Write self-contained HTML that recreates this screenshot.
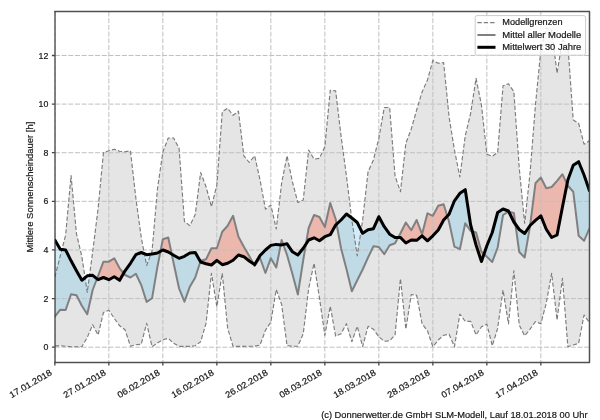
<!DOCTYPE html>
<html><head><meta charset="utf-8"><style>html,body{margin:0;padding:0;background:#fff;width:600px;height:420px;overflow:hidden}svg{display:block}</style></head><body>
<svg width="600" height="420" viewBox="0 0 600 420" font-family="'Liberation Sans', sans-serif">
<defs><clipPath id="ax"><rect x="54.9" y="11.5" width="534.60" height="351.00"/></clipPath></defs>
<rect width="600" height="420" fill="#fff"/>
<g clip-path="url(#ax)">
<polygon points="54.85,277.00 60.25,256.00 65.65,235.00 71.05,175.50 76.45,233.70 81.85,256.50 87.25,292.50 92.65,252.00 98.05,209.00 103.45,152.50 108.85,150.80 114.25,149.20 119.65,151.30 125.05,151.70 130.45,150.80 135.85,198.00 141.25,237.50 146.65,265.50 152.05,251.00 157.45,189.00 162.85,152.00 168.25,138.00 173.65,138.00 179.05,148.30 184.45,221.50 189.85,225.60 195.25,214.50 200.65,172.50 206.05,186.70 211.45,206.70 216.85,185.00 222.25,111.70 227.65,108.30 233.05,115.30 238.45,111.20 243.85,155.80 249.25,162.50 254.65,155.80 260.05,180.00 265.45,209.20 270.85,205.00 276.25,229.00 281.65,183.00 287.05,155.80 292.45,182.00 297.85,202.50 303.25,200.00 308.65,150.00 314.05,159.20 319.45,158.30 324.85,146.70 330.25,90.30 335.65,90.80 341.05,136.00 346.45,176.00 351.85,220.00 357.25,255.80 362.65,220.00 368.05,171.70 373.45,160.00 378.85,138.30 384.25,107.50 389.65,107.50 395.05,176.00 400.45,191.70 405.85,143.30 411.25,129.00 416.65,110.00 422.05,92.00 427.45,80.00 432.85,60.30 438.25,63.30 443.65,62.50 449.05,116.70 454.45,150.00 459.85,177.00 465.25,135.80 470.65,113.30 476.05,78.30 481.45,105.00 486.85,154.20 492.25,156.30 497.65,152.50 503.05,85.80 508.45,83.70 513.85,91.70 519.25,168.00 524.65,223.30 530.05,173.00 535.45,105.00 540.85,50.00 546.25,28.00 551.65,30.00 557.05,73.30 562.45,40.00 567.85,45.00 573.25,120.00 578.65,123.30 584.05,144.20 589.45,140.80 589.45,322.50 584.05,315.00 578.65,343.30 573.25,345.00 567.85,346.70 562.45,278.30 557.05,320.00 551.65,273.30 546.25,303.30 540.85,323.70 535.45,321.70 530.05,329.20 524.65,335.80 519.25,325.00 513.85,270.80 508.45,324.00 503.05,290.00 497.65,328.30 492.25,345.80 486.85,324.20 481.45,326.70 476.05,335.00 470.65,321.30 465.25,321.30 459.85,314.20 454.45,346.70 449.05,334.20 443.65,335.30 438.25,340.00 432.85,346.70 427.45,330.80 422.05,323.70 416.65,295.30 411.25,294.50 405.85,329.20 400.45,278.70 395.05,335.00 389.65,340.80 384.25,341.30 378.85,336.70 373.45,329.20 368.05,326.30 362.65,346.70 357.25,326.30 351.85,341.70 346.45,323.70 341.05,333.70 335.65,336.20 330.25,306.20 324.85,335.30 319.45,298.00 314.05,263.30 308.65,288.70 303.25,333.70 297.85,346.20 292.45,346.20 287.05,345.70 281.65,304.50 276.25,289.50 270.85,322.00 265.45,330.30 260.05,345.00 254.65,346.20 249.25,346.20 243.85,346.30 238.45,346.30 233.05,346.30 227.65,328.30 222.25,273.30 216.85,306.70 211.45,273.30 206.05,323.30 200.65,341.70 195.25,345.80 189.85,346.30 184.45,346.30 179.05,346.30 173.65,343.30 168.25,338.30 162.85,339.70 157.45,343.00 152.05,346.70 146.65,323.30 141.25,344.20 135.85,344.70 130.45,346.30 125.05,329.70 119.65,325.80 114.25,318.30 108.85,310.30 103.45,312.50 98.05,335.00 92.65,324.70 87.25,337.50 81.85,346.70 76.45,346.70 71.05,346.70 65.65,346.30 60.25,345.80 54.85,345.80" fill="#e5e5e5"/>
<polygon points="54.85,316.70 60.25,309.70 65.65,310.00 71.05,294.20 76.45,295.30 81.85,305.80 87.25,314.20 92.65,290.00 96.96,278.82 96.96,278.82 92.65,275.30 87.25,275.80 81.85,280.30 76.45,270.80 71.05,260.80 65.65,250.00 60.25,249.20 54.85,240.00" fill="#69c3e8" fill-opacity="0.3"/>
<polygon points="96.96,278.82 98.05,276.00 103.45,261.70 108.85,261.70 114.25,258.30 119.65,268.30 123.65,273.26 123.65,273.26 119.65,280.30 114.25,276.70 108.85,279.70 103.45,277.50 98.05,279.70 96.96,278.82" fill="#ecb7ad" fill-opacity="1.0"/>
<polygon points="123.65,273.26 125.05,275.00 130.45,277.50 135.85,273.70 141.25,285.00 146.65,302.00 152.05,298.30 157.45,266.70 160.47,251.32 160.47,251.32 157.45,253.00 152.05,254.00 146.65,254.70 141.25,252.50 135.85,254.70 130.45,263.30 125.05,270.80 123.65,273.26" fill="#69c3e8" fill-opacity="0.3"/>
<polygon points="160.47,251.32 162.85,239.20 168.25,237.50 171.73,254.13 171.73,254.13 168.25,252.00 162.85,250.00 160.47,251.32" fill="#ecb7ad" fill-opacity="1.0"/>
<polygon points="171.73,254.13 173.65,263.30 179.05,288.30 184.45,301.70 189.85,286.70 195.25,277.50 200.40,261.56 200.40,261.56 195.25,252.50 189.85,253.00 184.45,256.30 179.05,258.30 173.65,255.30 171.73,254.13" fill="#69c3e8" fill-opacity="0.3"/>
<polygon points="200.40,261.56 200.65,260.80 206.05,259.20 211.45,248.30 216.85,248.30 222.25,231.70 227.65,225.80 233.05,215.80 238.45,236.70 243.85,246.70 249.25,256.00 253.47,263.81 253.47,263.81 249.25,261.00 243.85,256.70 238.45,255.00 233.05,260.30 227.65,263.30 222.25,264.70 216.85,260.30 211.45,265.00 206.05,263.70 200.65,262.00 200.40,261.56" fill="#ecb7ad" fill-opacity="1.0"/>
<polygon points="253.47,263.81 254.65,266.00 260.05,258.00 265.45,273.00 270.85,258.20 276.25,267.50 280.71,244.81 280.71,244.81 276.25,244.40 270.85,245.40 265.45,250.00 260.05,255.50 254.65,264.60 253.47,263.81" fill="#69c3e8" fill-opacity="0.3"/>
<polygon points="280.71,244.81 281.65,240.00 283.29,244.57 283.29,244.57 281.65,244.90 280.71,244.81" fill="#ecb7ad" fill-opacity="1.0"/>
<polygon points="283.29,244.57 287.05,255.00 292.45,274.00 297.85,294.50 303.25,260.00 305.93,244.13 305.93,244.13 303.25,248.20 297.85,255.00 292.45,251.80 287.05,243.80 283.29,244.57" fill="#69c3e8" fill-opacity="0.3"/>
<polygon points="305.93,244.13 308.65,228.00 314.05,215.00 319.45,217.00 324.85,227.00 330.25,203.00 335.65,219.00 336.59,224.13 336.59,224.13 335.65,225.00 330.25,234.70 324.85,236.70 319.45,240.80 314.05,237.80 308.65,240.00 305.93,244.13" fill="#ecb7ad" fill-opacity="1.0"/>
<polygon points="336.59,224.13 341.05,248.30 346.45,269.00 351.85,291.20 357.25,280.30 362.65,269.50 368.05,257.50 373.45,246.30 378.85,247.00 384.25,254.20 389.65,245.30 395.05,243.30 398.18,237.50 398.18,237.50 395.05,237.50 389.65,234.20 384.25,226.70 378.85,216.70 373.45,228.70 368.05,229.70 362.65,233.30 357.25,222.50 351.85,218.00 346.45,214.00 341.05,220.00 336.59,224.13" fill="#69c3e8" fill-opacity="0.3"/>
<polygon points="398.18,237.50 400.45,233.30 405.85,222.50 411.25,230.30 416.65,220.00 422.05,234.20 427.45,213.30 432.85,215.80 438.25,205.80 443.65,204.20 447.31,216.07 447.31,216.07 443.65,220.00 438.25,230.00 432.85,235.80 427.45,240.80 422.05,235.80 416.65,240.30 411.25,240.00 405.85,243.00 400.45,237.50 398.18,237.50" fill="#ecb7ad" fill-opacity="1.0"/>
<polygon points="447.31,216.07 449.05,221.70 454.45,246.70 459.85,249.20 465.25,223.30 470.65,230.80 472.36,231.34 472.36,231.34 470.65,225.00 465.25,189.70 459.85,193.30 454.45,200.80 449.05,214.20 447.31,216.07" fill="#69c3e8" fill-opacity="0.3"/>
<polygon points="472.36,231.34 476.05,232.50 481.45,251.70 484.01,254.07 484.01,254.07 481.45,261.50 476.05,245.00 472.36,231.34" fill="#ecb7ad" fill-opacity="1.0"/>
<polygon points="484.01,254.07 486.85,256.70 492.25,262.00 497.65,247.50 503.05,215.00 508.45,211.70 508.84,211.79 508.84,211.79 508.45,211.00 503.05,209.00 497.65,212.50 492.25,232.50 486.85,245.80 484.01,254.07" fill="#69c3e8" fill-opacity="0.3"/>
<polygon points="508.84,211.79 513.85,213.00 515.39,224.14 515.39,224.14 513.85,222.00 508.84,211.79" fill="#ecb7ad" fill-opacity="1.0"/>
<polygon points="515.39,224.14 519.25,252.00 524.65,257.50 530.05,226.00 530.12,225.43 530.12,225.43 530.05,225.50 524.65,233.50 519.25,229.50 515.39,224.14" fill="#69c3e8" fill-opacity="0.3"/>
<polygon points="530.12,225.43 535.45,183.30 540.85,177.50 546.25,188.30 551.65,187.00 557.05,180.80 562.45,174.20 567.04,184.06 567.04,184.06 562.45,207.00 557.05,235.00 551.65,237.50 546.25,229.20 540.85,215.80 535.45,220.30 530.12,225.43" fill="#ecb7ad" fill-opacity="1.0"/>
<polygon points="567.04,184.06 567.85,185.80 573.25,191.70 578.65,235.80 584.05,240.80 589.45,228.30 589.45,190.80 584.05,175.00 578.65,161.70 573.25,165.30 567.85,180.00 567.04,184.06" fill="#69c3e8" fill-opacity="0.3"/>
<path d="M54.85 11.5V362.5M108.85 11.5V362.5M162.85 11.5V362.5M216.85 11.5V362.5M270.85 11.5V362.5M324.85 11.5V362.5M378.85 11.5V362.5M432.85 11.5V362.5M486.85 11.5V362.5M540.85 11.5V362.5M54.9 347.20H589.5M54.9 298.58H589.5M54.9 249.96H589.5M54.9 201.34H589.5M54.9 152.72H589.5M54.9 104.10H589.5M54.9 55.48H589.5" stroke="#c0c0c0" stroke-width="1.0" stroke-dasharray="5 1.7" fill="none"/>
<polyline points="54.85,277.00 60.25,256.00 65.65,235.00 71.05,175.50 76.45,233.70 81.85,256.50 87.25,292.50 92.65,252.00 98.05,209.00 103.45,152.50 108.85,150.80 114.25,149.20 119.65,151.30 125.05,151.70 130.45,150.80 135.85,198.00 141.25,237.50 146.65,265.50 152.05,251.00 157.45,189.00 162.85,152.00 168.25,138.00 173.65,138.00 179.05,148.30 184.45,221.50 189.85,225.60 195.25,214.50 200.65,172.50 206.05,186.70 211.45,206.70 216.85,185.00 222.25,111.70 227.65,108.30 233.05,115.30 238.45,111.20 243.85,155.80 249.25,162.50 254.65,155.80 260.05,180.00 265.45,209.20 270.85,205.00 276.25,229.00 281.65,183.00 287.05,155.80 292.45,182.00 297.85,202.50 303.25,200.00 308.65,150.00 314.05,159.20 319.45,158.30 324.85,146.70 330.25,90.30 335.65,90.80 341.05,136.00 346.45,176.00 351.85,220.00 357.25,255.80 362.65,220.00 368.05,171.70 373.45,160.00 378.85,138.30 384.25,107.50 389.65,107.50 395.05,176.00 400.45,191.70 405.85,143.30 411.25,129.00 416.65,110.00 422.05,92.00 427.45,80.00 432.85,60.30 438.25,63.30 443.65,62.50 449.05,116.70 454.45,150.00 459.85,177.00 465.25,135.80 470.65,113.30 476.05,78.30 481.45,105.00 486.85,154.20 492.25,156.30 497.65,152.50 503.05,85.80 508.45,83.70 513.85,91.70 519.25,168.00 524.65,223.30 530.05,173.00 535.45,105.00 540.85,50.00 546.25,28.00 551.65,30.00 557.05,73.30 562.45,40.00 567.85,45.00 573.25,120.00 578.65,123.30 584.05,144.20 589.45,140.80" fill="none" stroke="#7c7c7c" stroke-width="1.15" stroke-dasharray="4.3 2.1" stroke-linejoin="round"/>
<polyline points="54.85,345.80 60.25,345.80 65.65,346.30 71.05,346.70 76.45,346.70 81.85,346.70 87.25,337.50 92.65,324.70 98.05,335.00 103.45,312.50 108.85,310.30 114.25,318.30 119.65,325.80 125.05,329.70 130.45,346.30 135.85,344.70 141.25,344.20 146.65,323.30 152.05,346.70 157.45,343.00 162.85,339.70 168.25,338.30 173.65,343.30 179.05,346.30 184.45,346.30 189.85,346.30 195.25,345.80 200.65,341.70 206.05,323.30 211.45,273.30 216.85,306.70 222.25,273.30 227.65,328.30 233.05,346.30 238.45,346.30 243.85,346.30 249.25,346.20 254.65,346.20 260.05,345.00 265.45,330.30 270.85,322.00 276.25,289.50 281.65,304.50 287.05,345.70 292.45,346.20 297.85,346.20 303.25,333.70 308.65,288.70 314.05,263.30 319.45,298.00 324.85,335.30 330.25,306.20 335.65,336.20 341.05,333.70 346.45,323.70 351.85,341.70 357.25,326.30 362.65,346.70 368.05,326.30 373.45,329.20 378.85,336.70 384.25,341.30 389.65,340.80 395.05,335.00 400.45,278.70 405.85,329.20 411.25,294.50 416.65,295.30 422.05,323.70 427.45,330.80 432.85,346.70 438.25,340.00 443.65,335.30 449.05,334.20 454.45,346.70 459.85,314.20 465.25,321.30 470.65,321.30 476.05,335.00 481.45,326.70 486.85,324.20 492.25,345.80 497.65,328.30 503.05,290.00 508.45,324.00 513.85,270.80 519.25,325.00 524.65,335.80 530.05,329.20 535.45,321.70 540.85,323.70 546.25,303.30 551.65,273.30 557.05,320.00 562.45,278.30 567.85,346.70 573.25,345.00 578.65,343.30 584.05,315.00 589.45,322.50" fill="none" stroke="#7c7c7c" stroke-width="1.15" stroke-dasharray="4.3 2.1" stroke-linejoin="round"/>
<polyline points="54.85,316.70 60.25,309.70 65.65,310.00 71.05,294.20 76.45,295.30 81.85,305.80 87.25,314.20 92.65,290.00 98.05,276.00 103.45,261.70 108.85,261.70 114.25,258.30 119.65,268.30 125.05,275.00 130.45,277.50 135.85,273.70 141.25,285.00 146.65,302.00 152.05,298.30 157.45,266.70 162.85,239.20 168.25,237.50 173.65,263.30 179.05,288.30 184.45,301.70 189.85,286.70 195.25,277.50 200.65,260.80 206.05,259.20 211.45,248.30 216.85,248.30 222.25,231.70 227.65,225.80 233.05,215.80 238.45,236.70 243.85,246.70 249.25,256.00 254.65,266.00 260.05,258.00 265.45,273.00 270.85,258.20 276.25,267.50 281.65,240.00 287.05,255.00 292.45,274.00 297.85,294.50 303.25,260.00 308.65,228.00 314.05,215.00 319.45,217.00 324.85,227.00 330.25,203.00 335.65,219.00 341.05,248.30 346.45,269.00 351.85,291.20 357.25,280.30 362.65,269.50 368.05,257.50 373.45,246.30 378.85,247.00 384.25,254.20 389.65,245.30 395.05,243.30 400.45,233.30 405.85,222.50 411.25,230.30 416.65,220.00 422.05,234.20 427.45,213.30 432.85,215.80 438.25,205.80 443.65,204.20 449.05,221.70 454.45,246.70 459.85,249.20 465.25,223.30 470.65,230.80 476.05,232.50 481.45,251.70 486.85,256.70 492.25,262.00 497.65,247.50 503.05,215.00 508.45,211.70 513.85,213.00 519.25,252.00 524.65,257.50 530.05,226.00 535.45,183.30 540.85,177.50 546.25,188.30 551.65,187.00 557.05,180.80 562.45,174.20 567.85,185.80 573.25,191.70 578.65,235.80 584.05,240.80 589.45,228.30" fill="none" stroke="#808080" stroke-width="2.0" stroke-linejoin="round" stroke-linecap="round"/>
<polyline points="54.85,240.00 60.25,249.20 65.65,250.00 71.05,260.80 76.45,270.80 81.85,280.30 87.25,275.80 92.65,275.30 98.05,279.70 103.45,277.50 108.85,279.70 114.25,276.70 119.65,280.30 125.05,270.80 130.45,263.30 135.85,254.70 141.25,252.50 146.65,254.70 152.05,254.00 157.45,253.00 162.85,250.00 168.25,252.00 173.65,255.30 179.05,258.30 184.45,256.30 189.85,253.00 195.25,252.50 200.65,262.00 206.05,263.70 211.45,265.00 216.85,260.30 222.25,264.70 227.65,263.30 233.05,260.30 238.45,255.00 243.85,256.70 249.25,261.00 254.65,264.60 260.05,255.50 265.45,250.00 270.85,245.40 276.25,244.40 281.65,244.90 287.05,243.80 292.45,251.80 297.85,255.00 303.25,248.20 308.65,240.00 314.05,237.80 319.45,240.80 324.85,236.70 330.25,234.70 335.65,225.00 341.05,220.00 346.45,214.00 351.85,218.00 357.25,222.50 362.65,233.30 368.05,229.70 373.45,228.70 378.85,216.70 384.25,226.70 389.65,234.20 395.05,237.50 400.45,237.50 405.85,243.00 411.25,240.00 416.65,240.30 422.05,235.80 427.45,240.80 432.85,235.80 438.25,230.00 443.65,220.00 449.05,214.20 454.45,200.80 459.85,193.30 465.25,189.70 470.65,225.00 476.05,245.00 481.45,261.50 486.85,245.80 492.25,232.50 497.65,212.50 503.05,209.00 508.45,211.00 513.85,222.00 519.25,229.50 524.65,233.50 530.05,225.50 535.45,220.30 540.85,215.80 546.25,229.20 551.65,237.50 557.05,235.00 562.45,207.00 567.85,180.00 573.25,165.30 578.65,161.70 584.05,175.00 589.45,190.80" fill="none" stroke="#000000" stroke-width="3.0" stroke-linejoin="round" stroke-linecap="round"/>
</g>
<path d="M54.3 11.5H590.1M54.3 362.5H590.1M589.5 11.5V362.5" stroke="#505050" stroke-width="1.5" fill="none"/>
<path d="M55.0 11.5V362.5" stroke="#333" stroke-width="1.2" fill="none"/>
<path d="M51.9 347.20H54.9M51.9 298.58H54.9M51.9 249.96H54.9M51.9 201.34H54.9M51.9 152.72H54.9M51.9 104.10H54.9M51.9 55.48H54.9M54.85 362.5V365.5M108.85 362.5V365.5M162.85 362.5V365.5M216.85 362.5V365.5M270.85 362.5V365.5M324.85 362.5V365.5M378.85 362.5V365.5M432.85 362.5V365.5M486.85 362.5V365.5M540.85 362.5V365.5" stroke="#444" stroke-width="1.3" fill="none"/>
<rect x="475.2" y="15.6" width="110.4" height="39.6" rx="2" ry="2" fill="#fff" fill-opacity="0.8" stroke="#cccccc" stroke-width="1"/>
<path d="M477.4 22.6H495.5" stroke="#7c7c7c" stroke-width="1.15" stroke-dasharray="4.3 2.1"/>
<path d="M477.4 35H495.5" stroke="#808080" stroke-width="2.0"/>
<path d="M477.4 47.3H495.5" stroke="#000" stroke-width="3.0"/>
<g opacity="0.999" stroke="#222" stroke-width="0.2" fill="#111">
<text x="48.3" y="350.30" font-size="8.8" text-anchor="end">0</text>
<text x="48.3" y="301.68" font-size="8.8" text-anchor="end">2</text>
<text x="48.3" y="253.06" font-size="8.8" text-anchor="end">4</text>
<text x="48.3" y="204.44" font-size="8.8" text-anchor="end">6</text>
<text x="48.3" y="155.82" font-size="8.8" text-anchor="end">8</text>
<text x="48.3" y="107.20" font-size="8.8" text-anchor="end">10</text>
<text x="48.3" y="58.58" font-size="8.8" text-anchor="end">12</text>
<text x="52.65" y="374.40" font-size="8.8" text-anchor="end" transform="rotate(-30 52.65 374.40)" textLength="47.5" lengthAdjust="spacingAndGlyphs">17.01.2018</text>
<text x="106.65" y="374.40" font-size="8.8" text-anchor="end" transform="rotate(-30 106.65 374.40)" textLength="47.5" lengthAdjust="spacingAndGlyphs">27.01.2018</text>
<text x="160.65" y="374.40" font-size="8.8" text-anchor="end" transform="rotate(-30 160.65 374.40)" textLength="47.5" lengthAdjust="spacingAndGlyphs">06.02.2018</text>
<text x="214.65" y="374.40" font-size="8.8" text-anchor="end" transform="rotate(-30 214.65 374.40)" textLength="47.5" lengthAdjust="spacingAndGlyphs">16.02.2018</text>
<text x="268.65" y="374.40" font-size="8.8" text-anchor="end" transform="rotate(-30 268.65 374.40)" textLength="47.5" lengthAdjust="spacingAndGlyphs">26.02.2018</text>
<text x="322.65" y="374.40" font-size="8.8" text-anchor="end" transform="rotate(-30 322.65 374.40)" textLength="47.5" lengthAdjust="spacingAndGlyphs">08.03.2018</text>
<text x="376.65" y="374.40" font-size="8.8" text-anchor="end" transform="rotate(-30 376.65 374.40)" textLength="47.5" lengthAdjust="spacingAndGlyphs">18.03.2018</text>
<text x="430.65" y="374.40" font-size="8.8" text-anchor="end" transform="rotate(-30 430.65 374.40)" textLength="47.5" lengthAdjust="spacingAndGlyphs">28.03.2018</text>
<text x="484.65" y="374.40" font-size="8.8" text-anchor="end" transform="rotate(-30 484.65 374.40)" textLength="47.5" lengthAdjust="spacingAndGlyphs">07.04.2018</text>
<text x="538.65" y="374.40" font-size="8.8" text-anchor="end" transform="rotate(-30 538.65 374.40)" textLength="47.5" lengthAdjust="spacingAndGlyphs">17.04.2018</text>
<text x="32.6" y="187.1" font-size="8.8" text-anchor="middle" transform="rotate(-90 32.6 187.1)" textLength="130.8" lengthAdjust="spacingAndGlyphs">Mittlere Sonnenscheindauer [h]</text>
<text x="502.3" y="25.3" font-size="8.8" textLength="60.2" lengthAdjust="spacingAndGlyphs">Modellgrenzen</text>
<text x="502.3" y="37.7" font-size="8.8" textLength="78.9" lengthAdjust="spacingAndGlyphs">Mittel aller Modelle</text>
<text x="502.3" y="50.1" font-size="8.8" textLength="79.0" lengthAdjust="spacingAndGlyphs">Mittelwert 30 Jahre</text>
<text x="321.2" y="418.1" font-size="9.4" textLength="266.3" lengthAdjust="spacingAndGlyphs">(c) Donnerwetter.de GmbH SLM-Modell, Lauf 18.01.2018 00 Uhr</text>
</g>
</svg>
</body></html>
